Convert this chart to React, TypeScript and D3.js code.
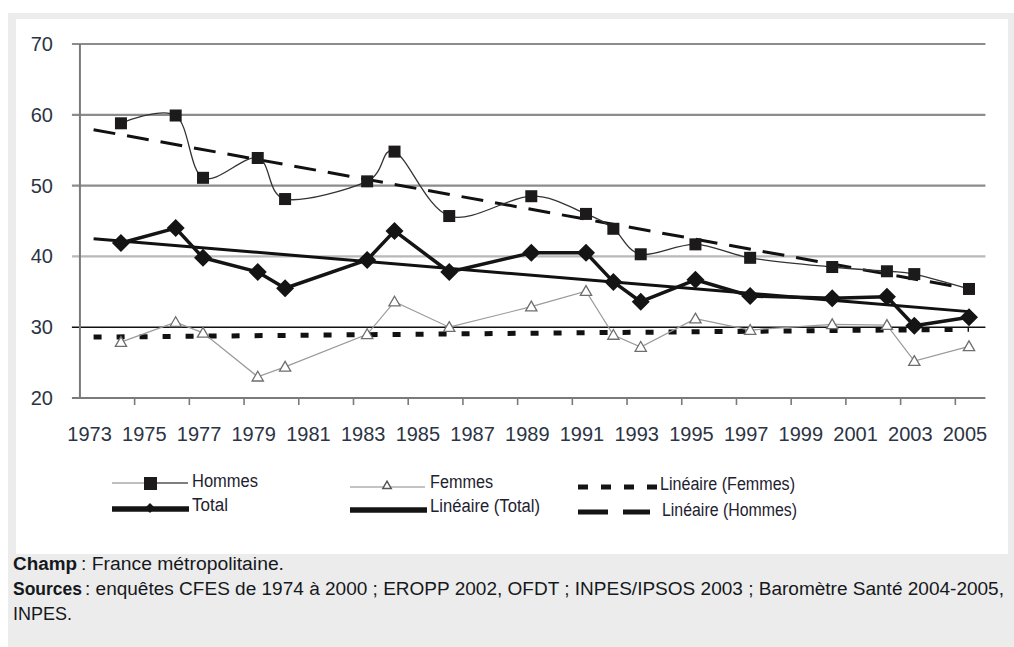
import React, { useRef, useEffect } from 'react';
import * as d3 from 'd3';

// survey years and values (%)
const years = [1974, 1976, 1977, 1979, 1980, 1983, 1984, 1986, 1989, 1991, 1992, 1993, 1995, 1997, 2000, 2002, 2003, 2005];
const hommes = [58.8, 59.9, 51.1, 53.9, 48.1, 50.6, 54.8, 45.7, 48.5, 46.0, 43.9, 40.3, 41.7, 39.8, 38.5, 37.9, 37.5, 35.4];
const femmes = [27.9, 30.7, 29.2, 23.0, 24.4, 29.0, 33.6, 30.0, 32.9, 35.1, 28.9, 27.2, 31.2, 29.6, 30.4, 30.3, 25.2, 27.3];
const total = [41.9, 44.0, 39.8, 37.8, 35.5, 39.5, 43.6, 37.8, 40.5, 40.5, 36.4, 33.6, 36.7, 34.4, 34.1, 34.3, 30.2, 31.4];

// linear trend lines (endpoints)
const trendYears = [1973, 2005];
const trendHommes = [57.9, 35.4];
const trendTotal = [42.5, 32.2];
const trendFemmes = [28.6, 29.7];

const yTicks = [20, 30, 40, 50, 60, 70];
const xLabels = ['1973', '1975', '1977', '1979', '1981', '1983', '1985', '1987', '1989', '1991', '1993', '1995', '1997', '1999', '2001', '2003', '2005'];

const footChamp = ['Champ', ': France métropolitaine.'];
const footSources = ['Sources', ': enquêtes CFES de 1974 à 2000 ; EROPP 2002, OFDT ; INPES/IPSOS 2003 ; Baromètre Santé 2004-2005,'];
const footLast = 'INPES.';

const FONT = '"Liberation Sans", Arial, sans-serif';

const App: React.FC = () => {
  const ref = useRef<SVGSVGElement | null>(null);

  useEffect(() => {
    if (!ref.current) return;
    const svg = d3.select(ref.current);
    svg.selectAll('*').remove();

    const x = d3.scaleLinear().domain([1973, 2005]).range([93.6, 969]);
    const y = d3.scaleLinear().domain([20, 70]).range([398, 44]);
    const axisL = x(1972.5);
    const axisR = x(2005.6);

    // frame
    svg.append('rect').attr('x', 8).attr('y', 13).attr('width', 1006).attr('height', 634).attr('fill', '#ececec');
    svg.append('rect').attr('x', 16).attr('y', 19).attr('width', 992).attr('height', 535).attr('fill', '#ffffff');

    // grid lines
    const gridColor = (v: number) => (v === 30 ? '#111' : v === 40 ? '#b8b8b8' : '#8c8c8c');
    svg.append('g').selectAll('line')
      .data(yTicks.filter(v => v > 20))
      .enter().append('line')
      .attr('x1', axisL - 8).attr('x2', axisR)
      .attr('y1', d => y(d)).attr('y2', d => y(d))
      .attr('stroke', d => gridColor(d))
      .attr('stroke-width', d => (d === 30 ? 1.6 : 2.2));

    // axes
    const ax = svg.append('g').attr('stroke', '#7a7a7a').attr('stroke-width', 2);
    ax.append('line').attr('x1', axisL).attr('x2', axisL).attr('y1', y(70)).attr('y2', y(20));
    ax.append('line').attr('x1', axisL - 8).attr('x2', axisR).attr('y1', y(20)).attr('y2', y(20));
    ax.selectAll('.xt')
      .data(d3.range(1974.5, 2005, 2))
      .enter().append('line')
      .attr('class', 'xt')
      .attr('x1', d => x(d)).attr('x2', d => x(d))
      .attr('y1', y(20)).attr('y2', y(20) + 7)
      .attr('stroke-width', 1.6);

    svg.append('g').selectAll('text')
      .data(yTicks)
      .enter().append('text')
      .attr('x', 53).attr('y', d => y(d) + 7)
      .attr('text-anchor', 'end')
      .attr('font-family', FONT).attr('font-size', 20)
      .attr('fill', '#2c3444')
      .text(d => d);

    svg.append('g').selectAll('text')
      .data(xLabels)
      .enter().append('text')
      .attr('x', d => x(+d) - 4).attr('y', 441)
      .attr('text-anchor', 'middle')
      .attr('font-family', FONT).attr('font-size', 20)
      .attr('fill', '#2c3444')
      .text(d => d);

    // trend lines
    const trend = (vals: number[]) =>
      d3.line<number>().x((_, i) => x(trendYears[i])).y(d => y(d))(vals);
    svg.append('path').attr('d', trend(trendFemmes)).attr('fill', 'none')
      .attr('stroke', '#111').attr('stroke-width', 5).attr('stroke-dasharray', '8,15');
    svg.append('path').attr('d', trend(trendTotal)).attr('fill', 'none')
      .attr('stroke', '#111').attr('stroke-width', 3);
    svg.append('path').attr('d', trend(trendHommes)).attr('fill', 'none')
      .attr('stroke', '#111').attr('stroke-width', 3).attr('stroke-dasharray', '22,12');

    // Femmes
    const straight = d3.line<number>().x((_, i) => x(years[i])).y(d => y(d));
    const smooth = d3.line<number>().x((_, i) => x(years[i])).y(d => y(d)).curve(d3.curveCatmullRom.alpha(0));

    svg.append('path').attr('d', straight(femmes)).attr('fill', 'none')
      .attr('stroke', '#9a9a9a').attr('stroke-width', 1.2);
    const tri = d3.symbol().type(d3.symbolTriangle).size(55);
    svg.append('g').selectAll('path')
      .data(femmes)
      .enter().append('path')
      .attr('d', tri)
      .attr('transform', (d, i) => `translate(${x(years[i])},${y(d) + 1})`)
      .attr('fill', '#fff').attr('stroke', '#6e6e6e').attr('stroke-width', 1.3);

    // Hommes
    svg.append('path').attr('d', smooth(hommes)).attr('fill', 'none')
      .attr('stroke', '#333').attr('stroke-width', 1.3);
    svg.append('g').selectAll('rect')
      .data(hommes)
      .enter().append('rect')
      .attr('x', (d, i) => x(years[i]) - 6).attr('y', d => y(d) - 6)
      .attr('width', 12).attr('height', 12)
      .attr('fill', '#1c1a1a');

    // Total
    svg.append('path').attr('d', straight(total)).attr('fill', 'none')
      .attr('stroke', '#141414').attr('stroke-width', 3.5).attr('stroke-linejoin', 'round');
    const diamond = (r: number) => `M0,${-r}L${r},0L0,${r}L${-r},0Z`;
    svg.append('g').selectAll('path')
      .data(total)
      .enter().append('path')
      .attr('d', diamond(9))
      .attr('transform', (d, i) => `translate(${x(years[i])},${y(d)})`)
      .attr('fill', '#141414');

    // legend
    const lg = svg.append('g');
    const label = (tx: number, ty: number, s: string, w: number) =>
      lg.append('text').attr('x', tx).attr('y', ty)
        .attr('font-family', FONT).attr('font-size', 18).attr('fill', '#1e2230')
        .attr('textLength', w).attr('lengthAdjust', 'spacingAndGlyphs')
        .text(s);

    lg.append('line').attr('x1', 112).attr('x2', 150).attr('y1', 483).attr('y2', 483).attr('stroke', '#aaa').attr('stroke-width', 1.5);
    lg.append('line').attr('x1', 150).attr('x2', 188).attr('y1', 483).attr('y2', 483).attr('stroke', '#555').attr('stroke-width', 1.5);
    lg.append('rect').attr('x', 144).attr('y', 477).attr('width', 13).attr('height', 13).attr('fill', '#1c1a1a');
    label(192, 487, 'Hommes', 66);

    lg.append('line').attr('x1', 112).attr('x2', 189).attr('y1', 509).attr('y2', 509).attr('stroke', '#141414').attr('stroke-width', 5.5);
    lg.append('path').attr('d', diamond(5)).attr('transform', 'translate(150,508)').attr('fill', '#141414');
    label(192, 511, 'Total', 36);

    lg.append('line').attr('x1', 350).attr('x2', 425).attr('y1', 487).attr('y2', 487).attr('stroke', '#888').attr('stroke-width', 1.2);
    lg.append('path').attr('d', d3.symbol().type(d3.symbolTriangle).size(30)).attr('transform', 'translate(387,486)')
      .attr('fill', '#fff').attr('stroke', '#555').attr('stroke-width', 1.5);
    label(430, 488, 'Femmes', 63);

    lg.append('line').attr('x1', 350).attr('x2', 427).attr('y1', 510).attr('y2', 510).attr('stroke', '#141414').attr('stroke-width', 5.5);
    label(430, 512, 'Linéaire (Total)', 110);

    lg.append('line').attr('x1', 578).attr('x2', 658).attr('y1', 487).attr('y2', 487)
      .attr('stroke', '#141414').attr('stroke-width', 5).attr('stroke-dasharray', '10,13');
    label(660, 490, 'Linéaire (Femmes)', 135);

    lg.append('line').attr('x1', 578).attr('x2', 650).attr('y1', 512).attr('y2', 512)
      .attr('stroke', '#141414').attr('stroke-width', 5).attr('stroke-dasharray', '30,15');
    label(662, 516, 'Linéaire (Hommes)', 135);

    // footer notes
    const ft = svg.append('g').attr('font-family', FONT).attr('font-size', 18).attr('fill', '#161820');
    const piece = (tx: number, ty: number, s: string, w: number, bold: boolean) =>
      ft.append('text').attr('x', tx).attr('y', ty)
        .attr('font-weight', bold ? 'bold' : 'normal')
        .attr('textLength', w).attr('lengthAdjust', 'spacingAndGlyphs')
        .text(s);
    piece(13, 570, footChamp[0], 64, true);
    piece(81, 570, footChamp[1], 203, false);
    piece(13, 595, footSources[0], 69, true);
    piece(85, 595, footSources[1], 919, false);
    piece(13, 620, footLast, 59, false);
  }, []);

  return (
    <svg ref={ref} width={1014} height={647}
      style={{ position: 'absolute', left: 0, top: 0, background: '#fff' }} />
  );
};

export default App;
